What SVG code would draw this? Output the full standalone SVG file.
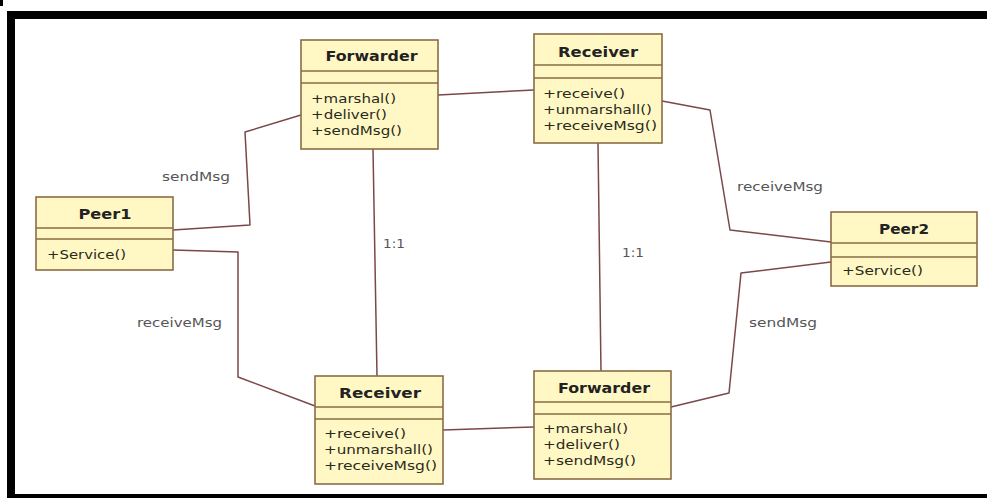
<svg xmlns="http://www.w3.org/2000/svg" width="987" height="498" viewBox="0 0 987 498">
  <style>
    .frame { fill: #000; }
    .box { fill: #fff8c4; stroke: #8a6c45; stroke-width: 1.6; }
    .sep { stroke: #8a6c45; stroke-width: 1.6; }
    .title { font-family: "DejaVu Sans", Verdana, sans-serif; font-weight: bold; font-size: 13.5px; fill: #222; text-anchor: middle; }
    .op { font-family: "DejaVu Sans", Verdana, sans-serif; font-size: 13px; fill: #2a2a1c; }
    .lbl { font-family: "DejaVu Sans", Verdana, sans-serif; font-size: 12.5px; fill: #555; }
    .conn { fill: none; stroke: #7a4848; stroke-width: 1.5; stroke-linejoin: round; }
  </style>

  <rect width="987" height="498" fill="#fff"/>

  <!-- outer frame -->
  <g id="frame">
    <rect class="frame" x="0" y="0" width="3" height="6"/>
    <rect class="frame" x="7" y="11" width="980" height="8"/>
    <rect class="frame" x="7" y="11" width="8" height="487"/>
    <rect class="frame" x="7" y="494" width="980" height="4"/>
  </g>

  <!-- associations -->
  <g id="connectors">
    <polyline class="conn" points="173,230 250,225 245,132 301,115"/>
    <polyline class="conn" points="438,95 534,90"/>
    <polyline class="conn" points="373,149 377,376"/>
    <polyline class="conn" points="598,143 601,371"/>
    <polyline class="conn" points="662,101 710,110 730,230 831,242"/>
    <polyline class="conn" points="173,250 238,252 238,377 315,406"/>
    <polyline class="conn" points="443,430 534,427"/>
    <polyline class="conn" points="671,407 729,393 741,273 831,262"/>
  </g>

  <!-- association labels -->
  <g id="labels">
    <text class="lbl" x="162" y="181" textLength="68" lengthAdjust="spacingAndGlyphs">sendMsg</text>
    <text class="lbl" x="383" y="248" textLength="22" lengthAdjust="spacingAndGlyphs">1:1</text>
    <text class="lbl" x="622" y="257" textLength="22" lengthAdjust="spacingAndGlyphs">1:1</text>
    <text class="lbl" x="737" y="191" textLength="86" lengthAdjust="spacingAndGlyphs">receiveMsg</text>
    <text class="lbl" x="137" y="327" textLength="85" lengthAdjust="spacingAndGlyphs">receiveMsg</text>
    <text class="lbl" x="749" y="327" textLength="68" lengthAdjust="spacingAndGlyphs">sendMsg</text>
  </g>

  <!-- Forwarder (top) -->
  <g id="forwarder-top">
    <rect class="box" x="301" y="40" width="137" height="109"/>
    <line class="sep" x1="301" y1="71" x2="438" y2="71"/>
    <line class="sep" x1="301" y1="83" x2="438" y2="83"/>
    <text class="title" x="371.5" y="61" textLength="92" lengthAdjust="spacingAndGlyphs">Forwarder</text>
    <text class="op" x="311" y="103" textLength="85" lengthAdjust="spacingAndGlyphs">+marshal()</text>
    <text class="op" x="311" y="119" textLength="76" lengthAdjust="spacingAndGlyphs">+deliver()</text>
    <text class="op" x="311" y="135" textLength="91" lengthAdjust="spacingAndGlyphs">+sendMsg()</text>
  </g>

  <!-- Receiver (top) -->
  <g id="receiver-top">
    <rect class="box" x="534" y="34" width="128" height="109"/>
    <line class="sep" x1="534" y1="65" x2="662" y2="65"/>
    <line class="sep" x1="534" y1="78" x2="662" y2="78"/>
    <text class="title" x="598" y="57" textLength="80" lengthAdjust="spacingAndGlyphs">Receiver</text>
    <text class="op" x="543" y="98" textLength="82" lengthAdjust="spacingAndGlyphs">+receive()</text>
    <text class="op" x="543" y="114" textLength="109" lengthAdjust="spacingAndGlyphs">+unmarshall()</text>
    <text class="op" x="543" y="130" textLength="114" lengthAdjust="spacingAndGlyphs">+receiveMsg()</text>
  </g>

  <!-- Peer1 -->
  <g id="peer1">
    <rect class="box" x="36" y="197" width="137" height="73"/>
    <line class="sep" x1="36" y1="228" x2="173" y2="228"/>
    <line class="sep" x1="36" y1="239" x2="173" y2="239"/>
    <text class="title" x="105" y="219" textLength="53" lengthAdjust="spacingAndGlyphs">Peer1</text>
    <text class="op" x="47" y="259" textLength="79" lengthAdjust="spacingAndGlyphs">+Service()</text>
  </g>

  <!-- Peer2 -->
  <g id="peer2">
    <rect class="box" x="831" y="212" width="146" height="74"/>
    <line class="sep" x1="831" y1="243" x2="977" y2="243"/>
    <line class="sep" x1="831" y1="257" x2="977" y2="257"/>
    <text class="title" x="904" y="234" textLength="50" lengthAdjust="spacingAndGlyphs">Peer2</text>
    <text class="op" x="842" y="275" textLength="81" lengthAdjust="spacingAndGlyphs">+Service()</text>
  </g>

  <!-- Receiver (bottom) -->
  <g id="receiver-bottom">
    <rect class="box" x="315" y="376" width="128" height="108"/>
    <line class="sep" x1="315" y1="407" x2="443" y2="407"/>
    <line class="sep" x1="315" y1="419" x2="443" y2="419"/>
    <text class="title" x="380" y="398" textLength="82" lengthAdjust="spacingAndGlyphs">Receiver</text>
    <text class="op" x="324" y="438" textLength="82" lengthAdjust="spacingAndGlyphs">+receive()</text>
    <text class="op" x="324" y="454" textLength="109" lengthAdjust="spacingAndGlyphs">+unmarshall()</text>
    <text class="op" x="324" y="470" textLength="113" lengthAdjust="spacingAndGlyphs">+receiveMsg()</text>
  </g>

  <!-- Forwarder (bottom) -->
  <g id="forwarder-bottom">
    <rect class="box" x="534" y="371" width="137" height="108"/>
    <line class="sep" x1="534" y1="402" x2="671" y2="402"/>
    <line class="sep" x1="534" y1="414" x2="671" y2="414"/>
    <text class="title" x="604" y="393" textLength="92" lengthAdjust="spacingAndGlyphs">Forwarder</text>
    <text class="op" x="543" y="433" textLength="85" lengthAdjust="spacingAndGlyphs">+marshal()</text>
    <text class="op" x="543" y="449" textLength="77" lengthAdjust="spacingAndGlyphs">+deliver()</text>
    <text class="op" x="543" y="465" textLength="93" lengthAdjust="spacingAndGlyphs">+sendMsg()</text>
  </g>
</svg>
